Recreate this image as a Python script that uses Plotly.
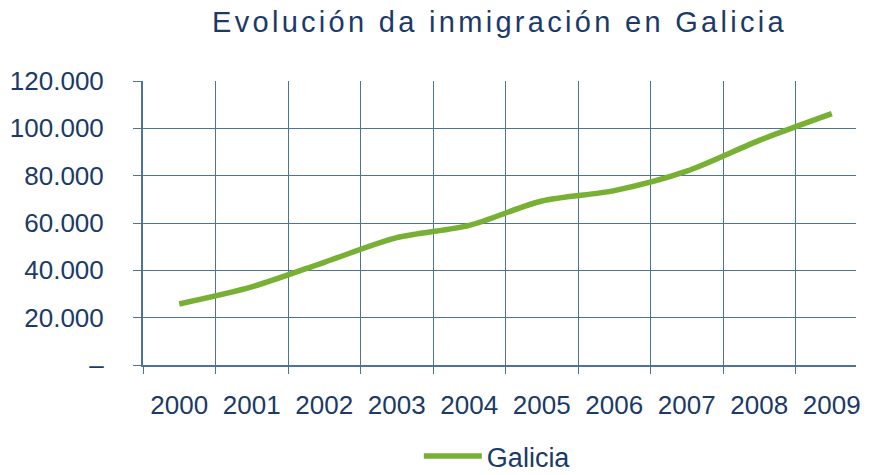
import plotly.graph_objects as go

years = ["2000", "2001", "2002", "2003", "2004", "2005", "2006", "2007", "2008", "2009"]
galicia = [25800, 33000, 43400, 53800, 59000, 69300, 73700, 81900, 94900, 106200]
y_tickvals = [0, 20000, 40000, 60000, 80000, 100000, 120000]
y_ticktext = ["–", "20.000", "40.000", "60.000", "80.000", "100.000", "120.000"]

navy = "#1b3a68"
grid = "#4d7399"
green = "#77b032"
font_family = "Arial"

fig = go.Figure()
fig.add_trace(go.Scatter(
    x=years, y=galicia, name="Galicia", mode="lines",
    line=dict(color=green, width=5.5, shape="spline", smoothing=0.8),
))

fig.update_layout(
    width=869, height=475,
    paper_bgcolor="white", plot_bgcolor="white",
    margin=dict(l=143, r=13, t=81, b=110, autoexpand=False),
    font=dict(family=font_family, color=navy, size=26),
    title=dict(text='<span style="letter-spacing:3.3px">Evolución da inmigración en Galicia</span>',
               font=dict(family=font_family, size=29, color=navy),
               x=0.5, xref="paper", xanchor="center", y=0.953, yanchor="middle"),
    showlegend=True,
    legend=dict(orientation="h", x=0.497, xanchor="center", y=-0.322, yanchor="middle",
                font=dict(family=font_family, size=27, color=navy), itemwidth=58),
    xaxis=dict(type="category", tickson="boundaries", range=[-0.5, 9.334],
               showgrid=True, gridcolor=grid, gridwidth=1,
               showline=True, linecolor=grid, linewidth=2,
               ticks="outside", ticklen=7, tickcolor=grid, tickwidth=1,
               ticklabelstandoff=16, tickfont=dict(family=font_family, size=26, color=navy)),
    yaxis=dict(range=[0, 120000], tickvals=y_tickvals, ticktext=y_ticktext,
               showgrid=True, gridcolor=grid, gridwidth=1,
               showline=True, linecolor=grid, linewidth=2,
               ticks="outside", ticklen=8, tickcolor=grid, tickwidth=1,
               ticklabelstandoff=24, tickfont=dict(family=font_family, size=26, color=navy), zeroline=False),
)

fig.write_html("out.html", config={"displayModeBar": False},
               post_script="document.body.style.margin='0';")
